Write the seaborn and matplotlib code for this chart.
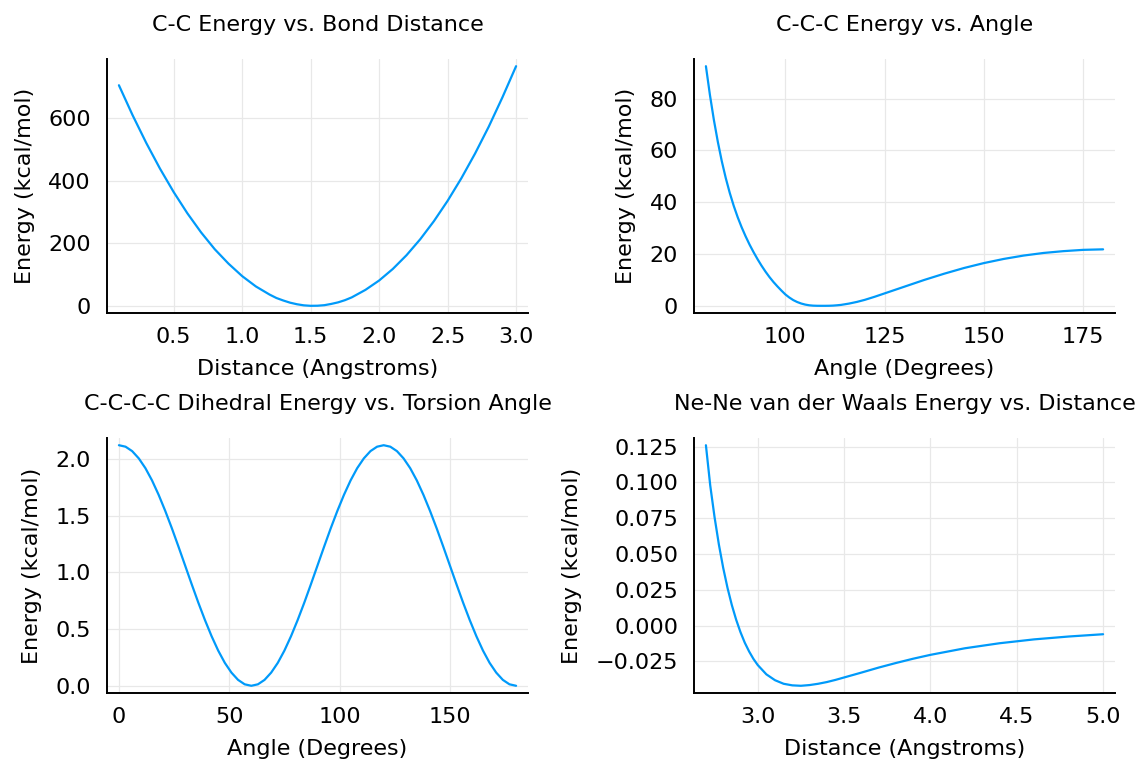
import numpy as np
import pandas as pd
import matplotlib
matplotlib.use("Agg")
import matplotlib.pyplot as plt
import seaborn as sns

# ---- data ----
bond_r = [0.1, 0.2, 0.3, 0.4, 0.5, 0.6, 0.7, 0.8, 0.9, 1.0, 1.1, 1.2, 1.25, 1.3, 1.35,
          1.4, 1.45, 1.5, 1.55, 1.6, 1.65, 1.7, 1.75, 1.8, 1.9, 2.0, 2.1, 2.2, 2.3, 2.4,
          2.5, 2.6, 2.7, 2.8, 2.9, 3.0]
bond_e = [706, 610, 521, 439, 364, 296, 235, 181, 135, 95, 62, 36, 25, 17, 10,
          5, 1.5, 0, 0.3, 2, 6, 11, 18, 27, 51, 81, 118, 162, 213, 271,
          336, 408, 487, 573, 667, 767]

angle_t = [80, 81, 82, 83, 84, 85, 86, 87, 88, 89, 90, 91, 92, 93, 94, 95, 96, 97, 98,
           99, 100, 101, 102, 103, 104, 105, 106, 107, 108, 109, 110, 111, 112, 113,
           114, 115, 116, 118, 120, 122.5, 125, 127.5, 130, 135, 140, 145, 150, 155,
           160, 165, 170, 175, 180]
angle_e = [92.5, 81.5, 71.8, 63.3, 55.8, 49.3, 43.6, 38.6, 34.2, 30.3, 26.8, 23.6, 20.7,
           18.0, 15.5, 13.2, 11.1, 9.2, 7.5, 5.9, 4.4, 3.2, 2.2, 1.45, 0.88, 0.47, 0.2,
           0.06, 0.01, 0.0, 0.0, 0.02, 0.08, 0.2, 0.35, 0.6, 0.85, 1.5, 2.3, 3.5, 4.8,
           6.1, 7.4, 10.0, 12.4, 14.6, 16.5, 18.1, 19.4, 20.4, 21.1, 21.6, 21.8]

dihed_phi = [0, 3, 6, 9, 12, 15, 18, 21, 24, 27, 30, 33, 36, 39, 42, 45, 48, 51, 54, 57,
             60, 63, 66, 69, 72, 75, 78, 81, 84, 87, 90, 93, 96, 99, 102, 105, 108, 111,
             114, 117, 120, 123, 126, 129, 132, 135, 138, 141, 144, 147, 150, 153, 156,
             159, 162, 165, 168, 171, 174, 177, 180]
dihed_e = [2.120, 2.107, 2.068, 2.004, 1.918, 1.810, 1.683, 1.541, 1.388, 1.226, 1.060,
           0.894, 0.732, 0.579, 0.437, 0.310, 0.202, 0.116, 0.052, 0.013, 0.000,
           0.013, 0.052, 0.116, 0.202, 0.310, 0.437, 0.579, 0.732, 0.894, 1.060,
           1.226, 1.388, 1.541, 1.683, 1.810, 1.918, 2.004, 2.068, 2.107, 2.120,
           2.107, 2.068, 2.004, 1.918, 1.810, 1.683, 1.541, 1.388, 1.226, 1.060,
           0.894, 0.732, 0.579, 0.437, 0.310, 0.202, 0.116, 0.052, 0.013, 0.000]

vdw_r = [2.7, 2.725, 2.75, 2.775, 2.8, 2.825, 2.85, 2.875, 2.9, 2.925, 2.95, 2.975, 3.0,
         3.05, 3.1, 3.15, 3.2, 3.25, 3.3, 3.35, 3.4, 3.45, 3.5, 3.55, 3.6, 3.7, 3.8,
         3.9, 4.0, 4.2, 4.4, 4.6, 4.8, 5.0]
vdw_e = [0.126, 0.0979, 0.0758, 0.0567, 0.0404, 0.0264, 0.0144, 0.0042, -0.0045,
         -0.0119, -0.0180, -0.0232, -0.0275, -0.0340, -0.0381, -0.0406, -0.0417,
         -0.0420, -0.0415, -0.0406, -0.0394, -0.0379, -0.0362, -0.0345, -0.0328,
         -0.0293, -0.0261, -0.0231, -0.0204, -0.0158, -0.0123, -0.0096, -0.0076,
         -0.0060]

titles = ["C-C Energy vs. Bond Distance", "C-C-C Energy vs. Angle",
          "C-C-C-C Dihedral Energy vs. Torsion Angle",
          "Ne-Ne van der Waals Energy vs. Distance"]
xlabels = ["Distance (Angstroms)", "Angle (Degrees)", "Angle (Degrees)",
           "Distance (Angstroms)"]
ylabel = "Energy (kcal/mol)"

xticks = [[0.5, 1.0, 1.5, 2.0, 2.5, 3.0], [100, 125, 150, 175],
          [0, 50, 100, 150], [3.0, 3.5, 4.0, 4.5, 5.0]]
yticks = [[0, 200, 400, 600], [0, 20, 40, 60, 80],
          [0.0, 0.5, 1.0, 1.5, 2.0],
          [-0.025, 0.0, 0.025, 0.050, 0.075, 0.100, 0.125]]
xfmt = ["{:.1f}", "{:.0f}", "{:.0f}", "{:.1f}"]
yfmt = ["{:.0f}", "{:.0f}", "{:.1f}", "{:.3f}"]

series = [(bond_r, bond_e), (angle_t, angle_e), (dihed_phi, dihed_e), (vdw_r, vdw_e)]

sns.set_style("white")
plt.rcParams["font.family"] = ["DejaVu Sans"]
plt.rcParams["axes.unicode_minus"] = True

W, H = 1138, 759
fig = plt.figure(figsize=(W / 100, H / 100), dpi=100)

# axes boxes in pixel coords: (left, top, right, bottom)
boxes = [(107, 59, 528, 313), (694, 59, 1115, 313),
         (107, 438, 528, 693), (694, 438, 1115, 693)]

color = "#009AFA"
fs = 16

for i, (b, (xs, ys)) in enumerate(zip(boxes, series)):
    l, t, r, bt = b
    ax = fig.add_axes([l / W, 1 - bt / H, (r - l) / W, (bt - t) / H])
    df = pd.DataFrame({"x": xs, "y": ys})
    sns.lineplot(data=df, x="x", y="y", ax=ax, color=color, linewidth=1.6,
                 estimator=None, sort=False)
    ax.margins(x=0.03, y=0.03)
    ax.set_xticks(xticks[i])
    ax.set_xticklabels([xfmt[i].format(v).replace("-", "\u2212") for v in xticks[i]])
    ax.set_yticks(yticks[i])
    ax.set_yticklabels([yfmt[i].format(v).replace("-", "\u2212") for v in yticks[i]])
    ax.grid(True, color="#e8e8e8", linewidth=0.9)
    ax.set_axisbelow(True)
    for s in ["top", "right"]:
        ax.spines[s].set_visible(False)
    for s in ["left", "bottom"]:
        ax.spines[s].set_color("black")
        ax.spines[s].set_linewidth(1.4)
    ax.tick_params(direction="in", length=5, width=1.2, color="black",
                   labelsize=fs, labelcolor="black")
    ax.tick_params(axis="x", pad=10)
    ax.tick_params(axis="y", pad=11.5)
    ax.set_xlabel(xlabels[i], fontsize=fs, color="black", labelpad=8.5)
    ax.set_ylabel(ylabel, fontsize=fs, color="black", labelpad=10)
    ax.set_title(titles[i], fontsize=fs, color="black", pad=20)

fig.savefig("out.png", dpi=100, facecolor="white")
